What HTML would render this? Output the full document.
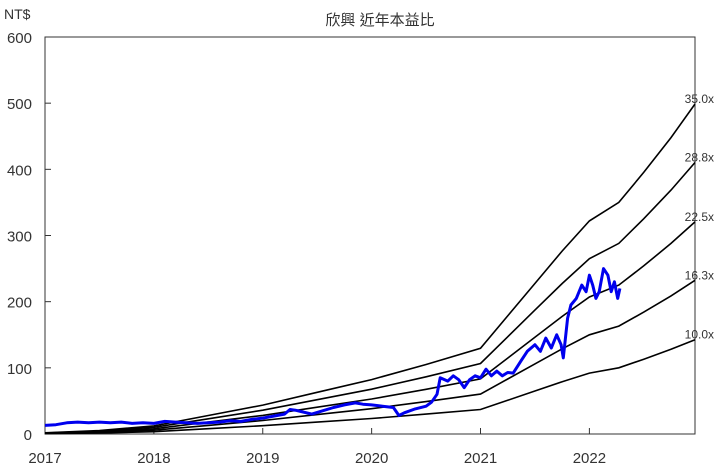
<!DOCTYPE html>
<html><head><meta charset="utf-8"><style>
body{margin:0;background:#fff}
svg{display:block;font-family:"Liberation Sans","Noto Sans CJK TC",sans-serif}
</style></head><body>
<svg id="chart" width="720" height="471">
<text x="380" y="25" font-size="15" text-anchor="middle" fill="#333">欣興 近年本益比</text>
<text x="4" y="19" font-size="14" fill="#333">NT$</text>
<g id="axes"></g>
<g id="bands"></g>
<g id="price"></g>
</svg>
<script>
const yTicks=[0,100,200,300,400,500,600];
const xTicks=[2017,2018,2019,2020,2021,2022];
const multiples=[10.0,16.3,22.5,28.8,35.0];
const multLabels=["10.0x","16.3x","22.5x","28.8x","35.0x"];
const epsDates=[2017.0,2017.5,2018.0,2018.5,2019.0,2019.5,2020.0,2020.5,2021.0,2021.25,2021.5,2021.75,2022.0,2022.27,2022.5,2022.75,2022.97];
const epsValues=[0.05,0.15,0.35,0.8,1.25,1.8,2.35,3.0,3.7,5.1,6.5,7.9,9.2,10.0,11.3,12.8,14.25];
const priceDates=[2017.0,2017.1,2017.2,2017.3,2017.4,2017.5,2017.6,2017.7,2017.8,2017.9,2018.0,2018.1,2018.2,2018.3,2018.4,2018.5,2018.6,2018.7,2018.8,2018.9,2019.0,2019.1,2019.2,2019.25,2019.3,2019.35,2019.45,2019.55,2019.65,2019.75,2019.85,2019.92,2020.0,2020.1,2020.2,2020.25,2020.3,2020.4,2020.5,2020.55,2020.6,2020.63,2020.7,2020.75,2020.8,2020.85,2020.9,2020.95,2021.0,2021.05,2021.1,2021.15,2021.2,2021.25,2021.3,2021.37,2021.43,2021.5,2021.55,2021.6,2021.65,2021.7,2021.74,2021.76,2021.8,2021.83,2021.88,2021.93,2021.97,2022.0,2022.03,2022.06,2022.09,2022.13,2022.17,2022.2,2022.23,2022.26,2022.28];
const priceValues=[13,14,17,18,17,18,17,18,16,17,16,19,18,17,16,17,18,20,19,22,24,27,30,37,36,34,30,35,40,44,47,45,44,42,40,28,32,38,42,48,60,85,80,88,82,70,82,88,85,98,88,95,88,93,92,110,125,135,125,145,130,150,135,115,175,195,205,225,215,240,225,205,215,250,240,215,230,205,220];
const L=45,R=695,T=37,B=434,X0=2017,X1=2022.97,YMAX=600;
const xs=v=>L+(v-X0)/(X1-X0)*(R-L);
const ys=v=>B-v/YMAX*(B-T);
const NS="http://www.w3.org/2000/svg";
function mk(tag,attrs,parent){const e=document.createElementNS(NS,tag);for(const k in attrs)e.setAttribute(k,attrs[k]);parent.appendChild(e);return e;}
const axes=document.getElementById('axes');
const frame=mk('rect',{x:L,y:T,width:R-L,height:B-T,fill:'none',stroke:'#333','stroke-width':1},axes);


yTicks.forEach(t=>{
 const ln=mk('line',{x1:L,x2:L+6,y1:ys(t),y2:ys(t),stroke:'#333'},axes);
 
 
 const tx=mk('text',{x:L-13,y:ys(t)+6,'font-size':15,'text-anchor':'end',fill:'#333'},axes);
 tx.textContent=t;
 
 
});
xTicks.forEach(t=>{
 const ln=mk('line',{x1:xs(t),x2:xs(t),y1:B,y2:B-6,stroke:'#333'},axes);
 
 
 const tx=mk('text',{x:xs(t),y:463,'font-size':15,'text-anchor':'middle',fill:'#333'},axes);
 tx.textContent=t;
 
 
});
const bands=document.getElementById('bands');
multiples.forEach((m,i)=>{
 const d=epsDates.map((t,j)=>(j?'L':'M')+xs(t).toFixed(1)+','+ys(epsValues[j]*m).toFixed(1)).join('');
 const p=mk('path',{d:d,fill:'none',stroke:'#000','stroke-width':1.6},bands);
 
 
 const last=epsValues[epsValues.length-1]*m;
 const tx=mk('text',{x:714,y:ys(last)-1,'font-size':12,'text-anchor':'end',fill:'#333'},bands);
 tx.textContent=multLabels[i];
 
 
});
const pr=document.getElementById('price');
const pd=priceDates.map((t,j)=>(j?'L':'M')+xs(t).toFixed(1)+','+ys(priceValues[j]).toFixed(1)).join('');
const pp=mk('path',{d:pd,fill:'none',stroke:'#0000ee','stroke-width':3,'stroke-linejoin':'round'},pr);


</script>
</body></html>
